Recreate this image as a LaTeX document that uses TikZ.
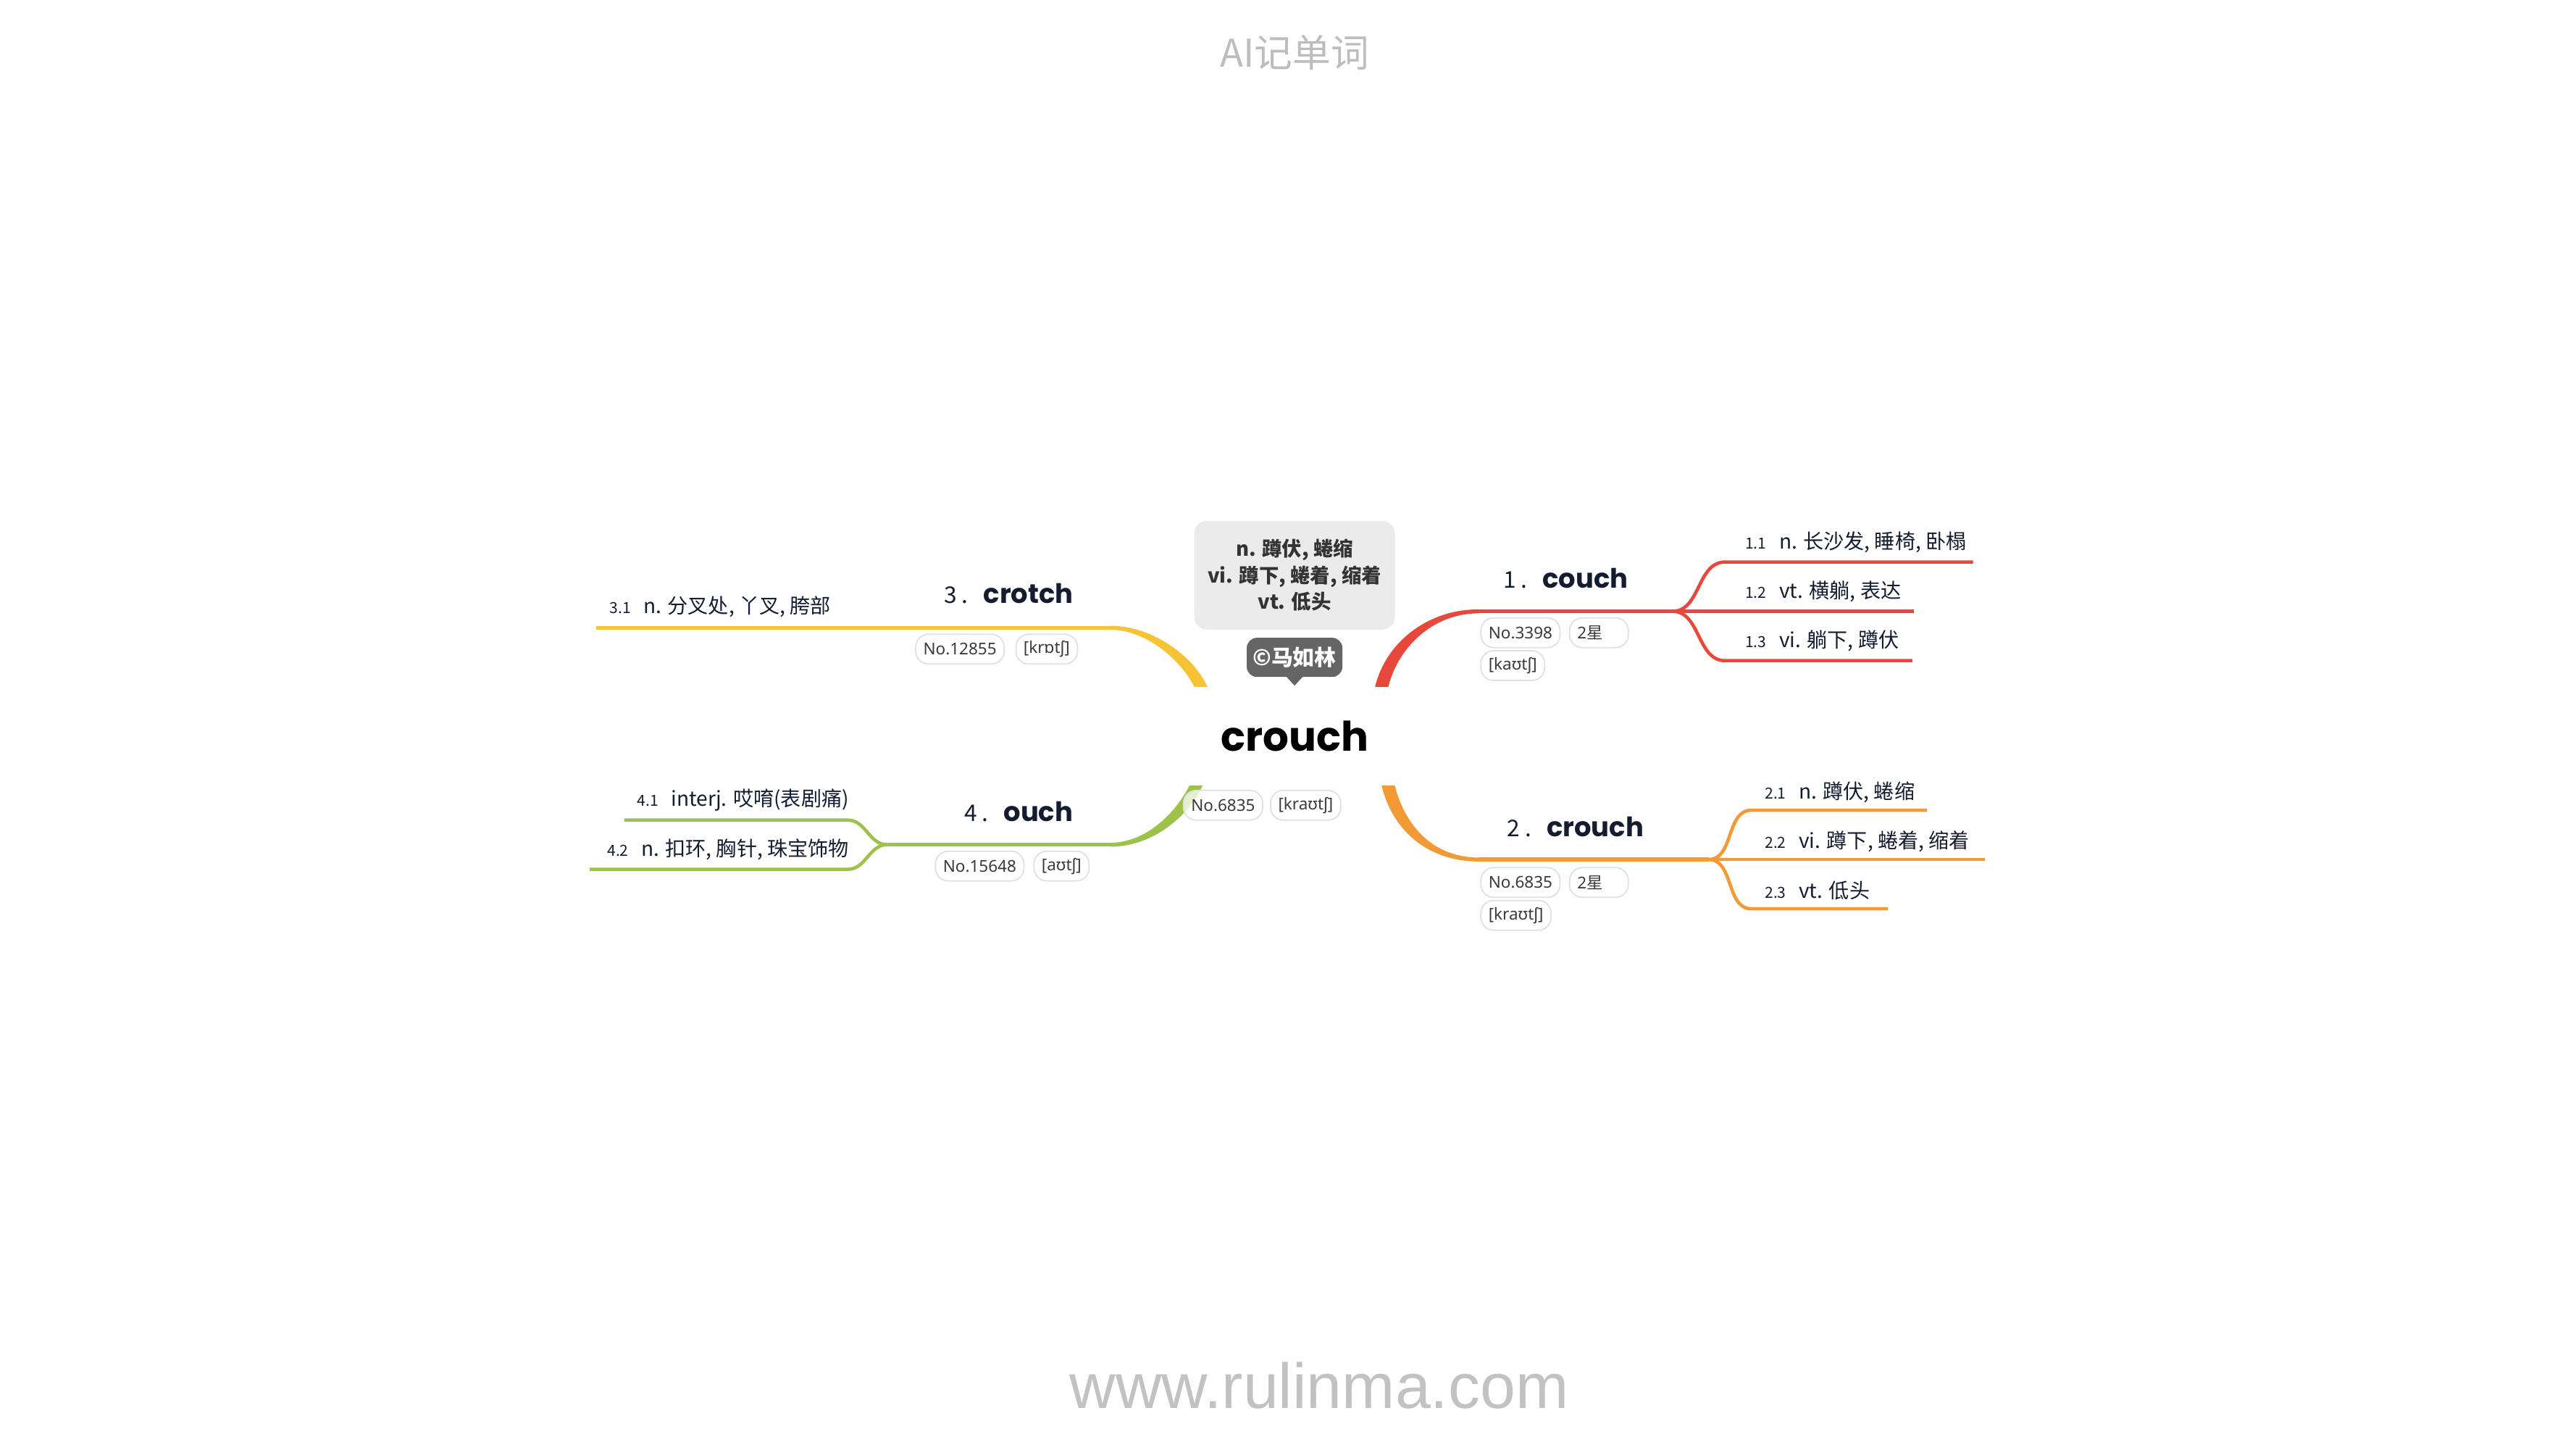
\documentclass[tikz,border=0pt]{standalone}
\usepackage{fontspec}
\setmainfont{Noto Sans CJK SC}
\newfontfamily\popfont{Poppins}
\newfontfamily\ipafont{Noto Sans}
\newfontfamily\urlfont{Liberation Sans}
\usetikzlibrary{calc}
\definecolor{redline}{HTML}{E8473B}
\definecolor{orangeline}{HTML}{F29A35}
\definecolor{yellowline}{HTML}{F6C334}
\definecolor{greenline}{HTML}{9CC24B}
\definecolor{inkblue}{HTML}{141D30}
\definecolor{boxgray}{HTML}{EBEBEB}
\definecolor{boxtext}{HTML}{333333}
\definecolor{signgray}{HTML}{656565}
\definecolor{tagline}{HTML}{E0E0E0}
\definecolor{tagtext}{HTML}{3A3A3A}
\definecolor{headgray}{HTML}{BDBDBD}
\definecolor{sitegray}{HTML}{C2C2C2}
\newcommand\hw[1]{{\popfont\bfseries\fontsize{10.5}{12}\selectfont #1}}
\newcommand\nr[1]{{\fontsize{6}{7}\selectfont #1}\hspace{5pt}}
\tikzset{
  x=0.022679cm, y=-0.022679cm,
  coreword/.style={font=\popfont\bfseries\fontsize{16}{18}\selectfont, text=black, inner sep=0pt},
  topic/.style={font=\fontsize{9}{11}\selectfont, text=inkblue, inner sep=0pt},
  sense/.style={font=\fontsize{8}{10}\selectfont, text=inkblue, inner sep=0pt},
  meaning/.style={fill=boxgray, rounded corners=5pt, align=center, text=boxtext,
    font=\bfseries\fontsize{7.8}{10.4}\selectfont, minimum width=2.77cm, minimum height=1.5cm, inner sep=0pt},
  signbox/.style={fill=signgray, rounded corners=4pt, text=white,
    font=\bfseries\fontsize{8.5}{10}\selectfont, minimum width=1.32cm, minimum height=0.54cm, inner sep=0pt},
  tag/.style={draw=tagline, line width=0.5pt, fill=white, fill opacity=0.75, text opacity=1,
    rounded corners=5pt, text=tagtext, font=\ipafont\fontsize{6.4}{7}\selectfont,
    minimum height=0.41cm, inner xsep=3pt, inner ysep=0pt, anchor=west},
  trunk/.style={line width=1.5pt},
  twig/.style={line width=1.3pt},
}

\begin{document}
\begin{tikzpicture}
    \useasboundingbox (0,0) rectangle (1568,882);
    % roots, bends and forks of the four branches
    \coordinate (r1) at (841,418); \coordinate (b1) at (900,372); \coordinate (f1) at (1018,372);
    \coordinate (r2) at (845,478); \coordinate (b2) at (900,523); \coordinate (f2) at (1040,523);
    \coordinate (r3) at (731,418); \coordinate (b3) at (676,382); \coordinate (f3) at (560,382);
    \coordinate (r4) at (728,478); \coordinate (b4) at (676,514); \coordinate (f4) at (540,514);

    \fill[redline] ($(r1)+(-4,0)$) .. controls ($(r1)+(2,-26)$) and ($(b1)+(-32,-1.2)$) .. ($(b1)+(0,-1.2)$)
        -- ($(b1)+(0,1.2)$) .. controls ($(b1)+(-28,1.2)$) and ($(r1)+(10,-24)$) .. ($(r1)+(4,0)$) -- cycle;
    \fill[orangeline] ($(r2)+(-4,0)$) .. controls ($(r2)+(2,26)$) and ($(b2)+(-32,1.2)$) .. ($(b2)+(0,1.2)$)
        -- ($(b2)+(0,-1.2)$) .. controls ($(b2)+(-28,-1.2)$) and ($(r2)+(10,24)$) .. ($(r2)+(4,0)$) -- cycle;
    \fill[yellowline] ($(r3)+(4,0)$) .. controls ($(r3)+(-4,-18)$) and ($(b3)+(26,-1.2)$) .. ($(b3)+(0,-1.2)$)
        -- ($(b3)+(0,1.2)$) .. controls ($(b3)+(22,1.2)$) and ($(r3)+(-12,-16)$) .. ($(r3)+(-4,0)$) -- cycle;
    \fill[greenline] ($(r4)+(4,0)$) .. controls ($(r4)+(-4,18)$) and ($(b4)+(26,1.2)$) .. ($(b4)+(0,1.2)$)
        -- ($(b4)+(0,-1.2)$) .. controls ($(b4)+(22,-1.2)$) and ($(r4)+(-12,16)$) .. ($(r4)+(-4,0)$) -- cycle;
    \draw[redline, trunk] (b1) -- (f1);
    \draw[orangeline, trunk] (b2) -- (f2);
    \draw[yellowline, trunk] (b3) -- (f3);
    \draw[greenline, trunk] (b4) -- (f4);

    % sub branches
    \draw[redline, twig] (f1) to[out=0, in=180] (1050,342) -- (1201,342);
    \draw[redline, twig] (f1) -- (1165,372);
    \draw[redline, twig] (f1) to[out=0, in=180] (1050,402) -- (1164,402);
    \draw[orangeline, twig] (f2) to[out=0, in=180] (1066,493) -- (1173,493);
    \draw[orangeline, twig] (f2) -- (1208,523);
    \draw[orangeline, twig] (f2) to[out=0, in=180] (1066,553) -- (1149,553);
    \draw[yellowline, twig] (f3) -- (363,382);
    \draw[greenline, twig] (f4) to[out=180, in=0] (516,499) -- (380,499);
    \draw[greenline, twig] (f4) to[out=180, in=0] (516,529) -- (359,529);

    % centre
    \node[coreword] (core) at (788,448) {crouch};
    \node[meaning] (mean) at (788,350) {n. 蹲伏, 蜷缩\\vi. 蹲下, 蜷着, 缩着\\vt. 低头};
    \node[signbox] (sign) at (788,400) {©马如林};
    \fill[signgray] ($(sign.south)+(-5.5,-1)$) -- ($(sign.south)+(5.5,-1)$) -- ($(sign.south)+(0,5)$) -- cycle;
    \node[tag] (n0) at (720,490) {No.6835};
    \node[tag] (p0) at (773,490) {[kraʊtʃ]};

    % branch words
    \node[topic] (w1) at (953,352) {1 .\hspace{6pt}\hw{couch}};
    \node[topic] (w2) at (959,503) {2 .\hspace{6pt}\hw{crouch}};
    \node[topic] (w3) at (614,361) {3 .\hspace{6pt}\hw{crotch}};
    \node[topic] (w4) at (620,494) {4 .\hspace{6pt}\hw{ouch}};
    \node[tag] (n1) at (901,385) {No.3398};
    \node[tag] (s1) at (955,385) {2{\rmfamily 星}\hspace{7pt}\mbox{}};
    \node[tag] (p1) at (901,405) {[kaʊtʃ]};
    \node[tag] (n2) at (901,537) {No.6835};
    \node[tag] (s2) at (955,537) {2{\rmfamily 星}\hspace{7pt}\mbox{}};
    \node[tag] (p2) at (901,557) {[kraʊtʃ]};
    \node[tag] (n3) at (557,395) {No.12855};
    \node[tag] (p3) at (618,395) {[krɒtʃ]};
    \node[tag] (n4) at (569,527) {No.15648};
    \node[tag] (p4) at (629,527) {[aʊtʃ]};

    % senses
    \node[sense, anchor=west] (l11) at (1062,330) {\nr{1.1}n. 长沙发, 睡椅, 卧榻};
    \node[sense, anchor=west] (l12) at (1062,360) {\nr{1.2}vt. 横躺, 表达};
    \node[sense, anchor=west] (l13) at (1062,390) {\nr{1.3}vi. 躺下, 蹲伏};
    \node[sense, anchor=west] (l21) at (1074,482) {\nr{2.1}n. 蹲伏, 蜷缩};
    \node[sense, anchor=west] (l22) at (1074,512) {\nr{2.2}vi. 蹲下, 蜷着, 缩着};
    \node[sense, anchor=west] (l23) at (1074,542) {\nr{2.3}vt. 低头};
    \node[sense, anchor=east] (l31) at (506,369) {\nr{3.1}n. 分叉处, 丫叉, 胯部};
    \node[sense, anchor=east] (l41) at (517,487) {\nr{4.1}interj. 哎唷(表剧痛)};
    \node[sense, anchor=east] (l42) at (517,517) {\nr{4.2}n. 扣环, 胸针, 珠宝饰物};

    % header and footer
    \node[font=\fontsize{15}{18}\selectfont, text=headgray] (head) at (788,32) {AI记单词};
    \node[font=\urlfont\fontsize{25}{30}\selectfont, text=sitegray] (site) at (803,843) {www.rulinma.com};
\end{tikzpicture}
\end{document}
